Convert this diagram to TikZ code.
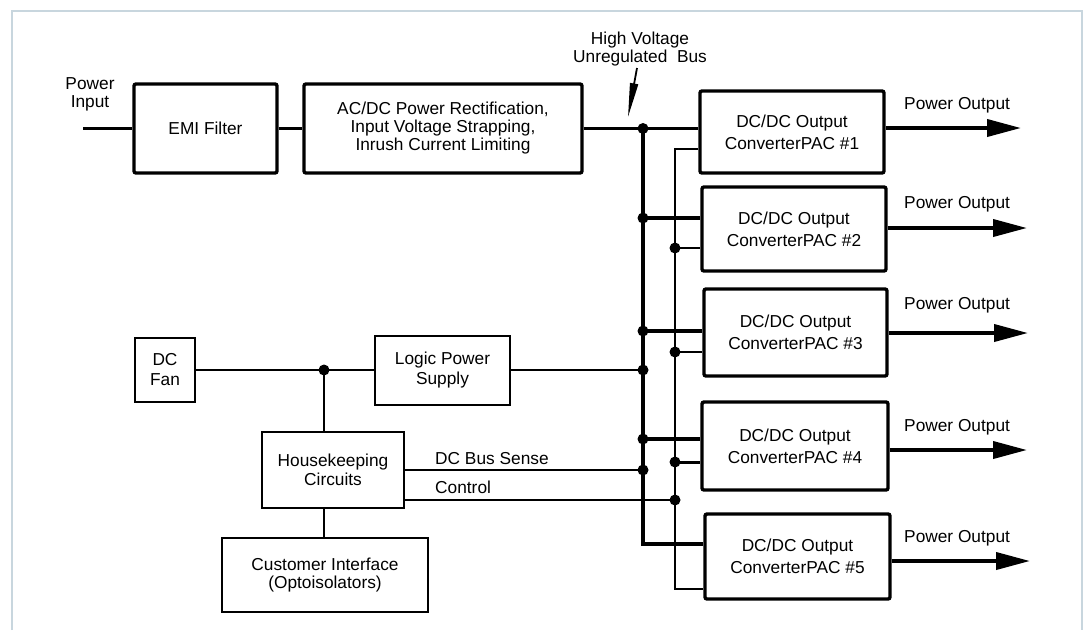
\documentclass[tikz,border=0pt]{standalone}
\usepackage{fontspec}
\setmainfont{Liberation Sans}
\usetikzlibrary{arrows.meta}
\definecolor{framegrey}{RGB}{200,214,222}
\tikzstyle{heavybox} = [rectangle, draw = black, line width = 3.4pt, rounded corners = 2pt, align = center, inner sep = 0pt]
\tikzstyle{lightbox} = [rectangle, draw = black, line width = 2.2pt, align = center, inner sep = 0pt]
\tikzstyle{convbox} = [heavybox, font = \fontsize{17.3}{22}\selectfont]
\tikzstyle{bus} = [line width = 3.8pt]
\tikzstyle{sig} = [line width = 2pt]
\tikzstyle{outarrow} = [line width = 3.8pt, -{Triangle[length=34pt, width=17pt]}]
\tikzstyle{busdot} = [circle, fill = black, inner sep = 0pt, minimum size = 11pt]
\tikzstyle{lbl} = [inner sep = 0pt, align = center]

\begin{document}
\begin{tikzpicture}[x = 1pt, y = -1pt, every node/.style = {font = \fontsize{17.3}{19}\selectfont}]
\useasboundingbox (0,0) rectangle (1086,630);
\draw [framegrey, line width = 1.2pt] (12,630) -- (12,11) -- (1082,11) -- (1082,630);

% power path
\node(emi) [heavybox, minimum width = 143pt, minimum height = 89pt] at (205.5,128.5) {EMI Filter};
\node(acdc) [heavybox, minimum width = 278pt, minimum height = 89pt, font = \fontsize{17.3}{18}\selectfont] at (443,128.5) {AC/DC Power Rectification,\\Input Voltage Strapping,\\Inrush Current Limiting};
\node(pwrin) [lbl, font = \fontsize{17.3}{18}\selectfont] at (90,94) {Power\\Input};
\node(hvlbl) [lbl, font = \fontsize{17.3}{18}\selectfont] at (640,49) {High Voltage\\Unregulated\ \ Bus};

% converters
\node(conv1) [convbox, minimum width = 184pt, minimum height = 82pt] at (792,132) {DC/DC Output\\ConverterPAC \#1};
\node(conv2) [convbox, minimum width = 184pt, minimum height = 84pt] at (794,229) {DC/DC Output\\ConverterPAC \#2};
\node(conv3) [convbox, minimum width = 183pt, minimum height = 87pt] at (795.5,332.5) {DC/DC Output\\ConverterPAC \#3};
\node(conv4) [convbox, minimum width = 186pt, minimum height = 88pt] at (795,446) {DC/DC Output\\ConverterPAC \#4};
\node(conv5) [convbox, minimum width = 185pt, minimum height = 85pt] at (797.5,556.5) {DC/DC Output\\ConverterPAC \#5};

\node(po1) [lbl, anchor = base west] at (904,109) {Power Output};
\node(po2) [lbl, anchor = base west] at (904,208) {Power Output};
\node(po3) [lbl, anchor = base west] at (904,309) {Power Output};
\node(po4) [lbl, anchor = base west] at (904,431) {Power Output};
\node(po5) [lbl, anchor = base west] at (904,542) {Power Output};

% control side
\node(fan) [lightbox, minimum width = 60pt, minimum height = 64pt, font = \fontsize{17.3}{20}\selectfont] at (165,370) {DC\\Fan};
\node(logic) [lightbox, minimum width = 135pt, minimum height = 69pt, font = \fontsize{17.3}{20}\selectfont] at (442.5,370.5) {Logic Power\\Supply};
\node(house) [lightbox, minimum width = 142pt, minimum height = 76pt] at (333,470) {Housekeeping\\Circuits};
\node(cust) [lightbox, minimum width = 206pt, minimum height = 74pt, font = \fontsize{17.3}{17.5}\selectfont] at (325,575) {Customer Interface\\(Optoisolators)};
\node(bslbl) [lbl, anchor = base west] at (435,464) {DC Bus Sense};
\node(ctlbl) [lbl, anchor = base west] at (435,493) {Control};

\coordinate (pin) at (83,128.5);
\coordinate (hvtail) at (637,68);
\coordinate (hvtip) at (628,117);
\coordinate (hv) at (643,128.5);
\coordinate (h2) at (643,218);
\coordinate (h3) at (643,331);
\coordinate (h4) at (643,439);
\coordinate (h5) at (643,544);
\coordinate (s1) at (675,149);
\coordinate (s2) at (675,248);
\coordinate (s3) at (675,352);
\coordinate (s4) at (675,462);
\coordinate (s5) at (675,589);
\coordinate (lp) at (643,370);
\coordinate (bs) at (643,470);
\coordinate (ct) at (675,500);
\coordinate (junc) at (324,370);
\coordinate (o1) at (1021,128);
\coordinate (o2) at (1027,228);
\coordinate (o3) at (1028,333);
\coordinate (o4) at (1027,450);
\coordinate (o5) at (1030,561);

% high voltage bus
\draw [bus] (pin) -- (emi);
\draw [bus] (emi) -- (acdc);
\draw [bus] (acdc) -- (hv) -- (hv -| conv1.west);
\draw [bus] (hv) -- (h5) -- (h5 -| conv5.west);
\draw [bus] (h2) -- (h2 -| conv2.west);
\draw [bus] (h3) -- (h3 -| conv3.west);
\draw [bus] (h4) -- (h4 -| conv4.west);
\draw [line width = 1.8pt, -{Triangle[length=34pt, width=8pt]}] (hvtail) -- (hvtip);

% signal bus
\draw [sig] (s1 -| conv1.west) -- (s1) -- (s5) -- (s5 -| conv5.west);
\draw [sig] (s2) -- (s2 -| conv2.west);
\draw [sig] (s3) -- (s3 -| conv3.west);
\draw [line width = 3pt] (s4) -- (s4 -| conv4.west);

% outputs
\draw [outarrow] (o1 -| conv1.east) -- (o1);
\draw [outarrow] (o2 -| conv2.east) -- (o2);
\draw [outarrow] (o3 -| conv3.east) -- (o3);
\draw [outarrow] (o4 -| conv4.east) -- (o4);
\draw [outarrow] (o5 -| conv5.east) -- (o5);

% housekeeping wiring
\draw [sig] (fan) -- (fan -| logic.west);
\draw [sig] (logic.east |- lp) -- (lp);
\draw [sig] (junc) -- (junc |- house.north);
\draw [sig] (junc |- house.south) -- (junc |- cust.north);
\draw [sig] (house.east |- bs) -- (bs);
\draw [sig] (house.east |- ct) -- (ct);

\node(d1) [busdot] at (hv) {};
\node(d2) [busdot] at (h2) {};
\node(d3) [busdot] at (h3) {};
\node(d4) [busdot] at (h4) {};
\node(d5) [busdot] at (s2) {};
\node(d6) [busdot] at (s3) {};
\node(d7) [busdot] at (s4) {};
\node(d8) [busdot] at (lp) {};
\node(d9) [busdot] at (bs) {};
\node(d10) [busdot] at (ct) {};
\node(d11) [busdot] at (junc) {};

\end{tikzpicture}
\end{document}
